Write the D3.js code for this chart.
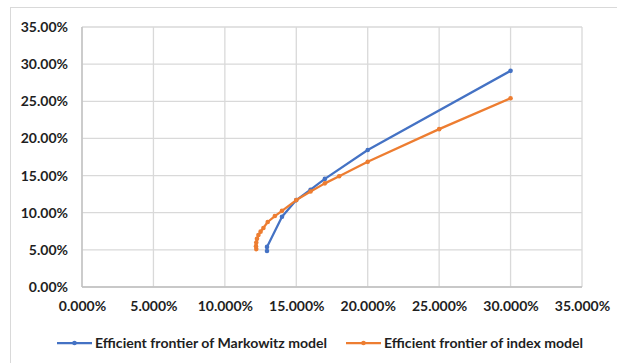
<!DOCTYPE html>
<html>
<head>
<meta charset="utf-8">
<script src="https://cdn.jsdelivr.net/npm/d3@7"></script>
<style>
  html, body { margin: 0; padding: 0; background: #fff; }
  svg { display: block; }
</style>
</head>
<body>
<svg id="chart" width="617" height="363"></svg>
<script>
// Standard deviation (%) and expected return (%) along each frontier
const markowitzRisk   = [12.95, 12.95, 14.0, 15.0, 16.0, 17.0, 20.0, 30.0];
const markowitzReturn = [4.85, 5.4, 9.45, 11.7, 13.1, 14.55, 18.45, 29.1];

const indexRisk   = [12.2, 12.18, 12.2, 12.25, 12.35, 12.5, 12.7, 13.0, 13.5, 14.0, 15.0, 16.0, 17.0, 18.0, 20.0, 25.0, 30.0];
const indexReturn = [5.1, 5.5, 6.0, 6.5, 7.0, 7.45, 7.95, 8.75, 9.55, 10.25, 11.7, 12.85, 13.95, 14.9, 16.85, 21.25, 25.4];

const xTicks = [0, 5, 10, 15, 20, 25, 30, 35];
const yTicks = [0, 5, 10, 15, 20, 25, 30, 35];

const seriesNames = ["Efficient frontier of Markowitz model", "Efficient frontier of index model"];
const seriesColors = ["#4472C4", "#ED7D31"];

const svg = d3.select("#chart");
const W = 617, H = 363;
const plot = { left: 82, right: 582, top: 27, bottom: 287 };
const font = "Lato, 'Liberation Sans', sans-serif";
const textColor = "#1f1f1f";

// chart frame
svg.append("rect")
  .attr("x", 10.5).attr("y", 7.5)
  .attr("width", W).attr("height", H)
  .attr("fill", "none").attr("stroke", "#d9d9d9").attr("stroke-width", 1);

const x = d3.scaleLinear().domain([0, 35]).range([plot.left, plot.right]);
const y = d3.scaleLinear().domain([0, 35]).range([plot.bottom, plot.top]);

// gridlines
const grid = svg.append("g").attr("stroke", "#d9d9d9").attr("stroke-width", 1.3);
xTicks.forEach(t => {
  grid.append("line")
    .attr("x1", x(t)).attr("x2", x(t))
    .attr("y1", plot.top).attr("y2", plot.bottom);
});
yTicks.forEach(t => {
  grid.append("line")
    .attr("x1", plot.left).attr("x2", plot.right)
    .attr("y1", y(t)).attr("y2", y(t));
});
// axis lines
svg.append("line").attr("x1", plot.left).attr("x2", plot.left)
  .attr("y1", plot.top).attr("y2", plot.bottom)
  .attr("stroke", "#bfbfbf").attr("stroke-width", 1.3);
svg.append("line").attr("x1", plot.left).attr("x2", plot.right)
  .attr("y1", plot.bottom).attr("y2", plot.bottom)
  .attr("stroke", "#bfbfbf").attr("stroke-width", 1.3);

// axes via d3 axis generators (ticks hidden, labels styled)
const yAxis = d3.axisLeft(y).tickValues(yTicks).tickSize(0).tickPadding(14)
  .tickFormat(d => d3.format(".2f")(d) + "%");
const xAxis = d3.axisBottom(x).tickValues(xTicks).tickSize(0).tickPadding(14)
  .tickFormat(d => d3.format(".3f")(d) + "%");

const gy = svg.append("g").attr("transform", `translate(${plot.left},0)`).call(yAxis);
const gx = svg.append("g").attr("transform", `translate(0,${plot.bottom})`).call(xAxis);
[gx, gy].forEach(g => {
  g.select(".domain").remove();
  g.selectAll("text")
    .attr("font-family", font).attr("font-weight", 700)
    .attr("font-size", 14).attr("fill", textColor);
});

// series
const series = [
  markowitzRisk.map((r, i) => [r, markowitzReturn[i]]),
  indexRisk.map((r, i) => [r, indexReturn[i]])
];
const line = d3.line().x(d => x(d[0])).y(d => y(d[1]));

series.forEach((pts, s) => {
  svg.append("path").datum(pts)
    .attr("d", line).attr("fill", "none")
    .attr("stroke", seriesColors[s]).attr("stroke-width", 2.25)
    .attr("stroke-linejoin", "round");
  svg.append("g").selectAll("circle").data(pts).join("circle")
    .attr("cx", d => x(d[0])).attr("cy", d => y(d[1])).attr("r", 2.3)
    .attr("fill", seriesColors[s]);
});

// legend
const legendY = 343;
const legendItems = [{ x0: 57 }, { x0: 346 }];
legendItems.forEach((item, s) => {
  const g = svg.append("g");
  g.append("line")
    .attr("x1", item.x0).attr("x2", item.x0 + 35)
    .attr("y1", legendY).attr("y2", legendY)
    .attr("stroke", seriesColors[s]).attr("stroke-width", 2.25);
  g.append("circle").attr("cx", item.x0 + 17.5).attr("cy", legendY).attr("r", 2.3)
    .attr("fill", seriesColors[s]);
  g.append("text")
    .attr("x", item.x0 + 38).attr("y", legendY)
    .attr("dy", "0.35em")
    .attr("font-family", font).attr("font-weight", 700).attr("font-size", 14.1)
    .attr("fill", textColor)
    .text(seriesNames[s]);
});
</script>
</body>
</html>
